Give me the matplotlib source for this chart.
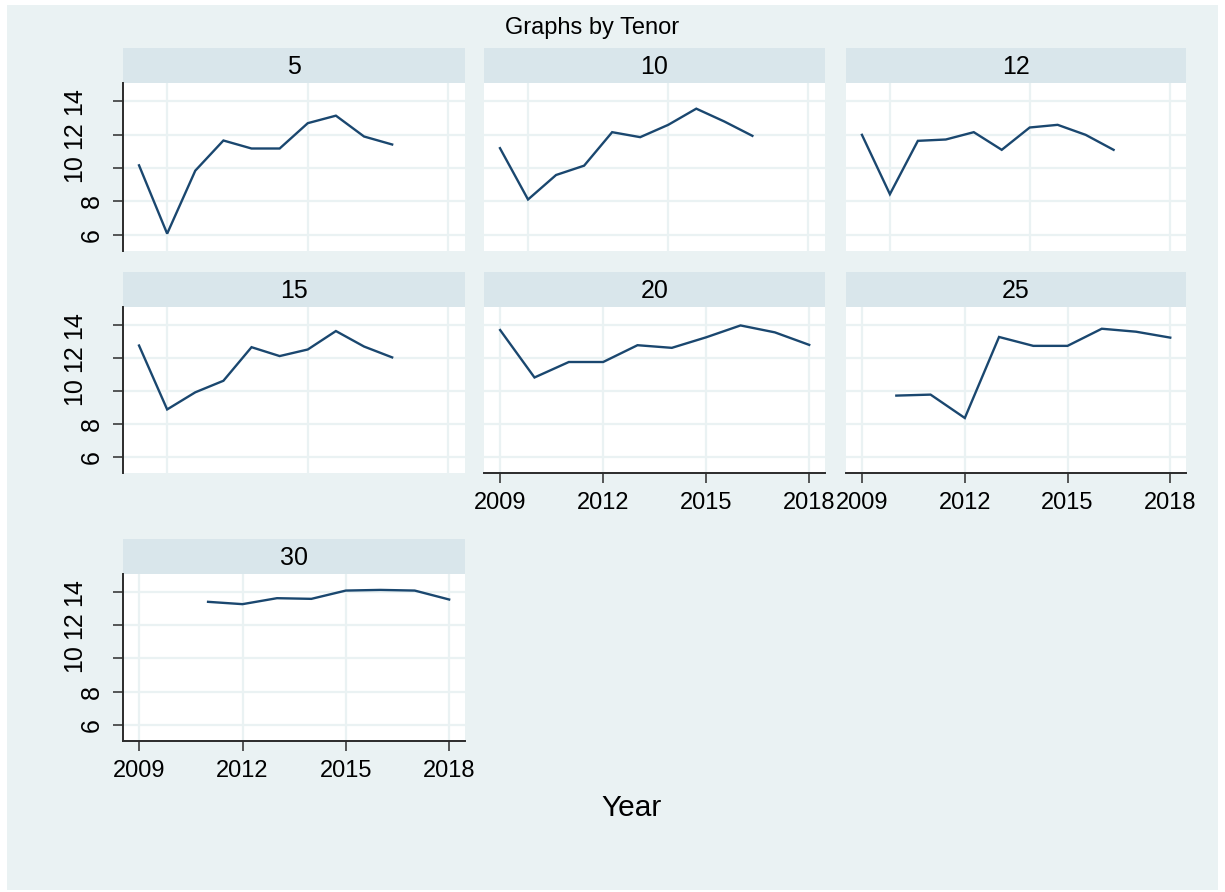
import matplotlib
matplotlib.use("Agg")
import matplotlib.pyplot as plt
from matplotlib.patches import Rectangle

plt.rcParams["font.family"] = ["Liberation Sans", "DejaVu Sans"]

# Yield by tenor and year
tenors = ["5", "10", "12", "15", "20", "25", "30"]
years_5 = [2009, 2010, 2011, 2012, 2013, 2014, 2015, 2016, 2017, 2018]
yield_5 = [10.16, 6.06, 9.84, 11.65, 11.17, 11.17, 12.69, 13.14, 11.89, 11.41]
years_10 = [2009, 2010, 2011, 2012, 2013, 2014, 2015, 2016, 2017, 2018]
yield_10 = [11.19, 8.11, 9.58, 10.14, 12.15, 11.85, 12.59, 13.56, 12.79, 11.93]
years_12 = [2009, 2010, 2011, 2012, 2013, 2014, 2015, 2016, 2017, 2018]
yield_12 = [11.99, 8.43, 11.63, 11.71, 12.15, 11.09, 12.43, 12.59, 11.99, 11.09]
years_15 = [2009, 2010, 2011, 2012, 2013, 2014, 2015, 2016, 2017, 2018]
yield_15 = [12.76, 8.88, 9.92, 10.62, 12.66, 12.12, 12.52, 13.64, 12.70, 12.04]
years_20 = [2009, 2010, 2011, 2012, 2013, 2014, 2015, 2016, 2017, 2018]
yield_20 = [13.70, 10.82, 11.76, 11.76, 12.78, 12.62, 13.26, 13.98, 13.56, 12.80]
years_25 = [2010, 2011, 2012, 2013, 2014, 2015, 2016, 2017, 2018]
yield_25 = [9.72, 9.78, 8.36, 13.28, 12.74, 12.74, 13.78, 13.60, 13.24]
years_30 = [2011, 2012, 2013, 2014, 2015, 2016, 2017, 2018]
yield_30 = [13.42, 13.28, 13.64, 13.60, 14.10, 14.14, 14.10, 13.56]

y_ticks = [6, 8, 10, 12, 14]
x_ticks_labeled = [2009, 2012, 2015, 2018]
x_ticks_upper = [2010, 2015, 2020]

series = {
    "5": (years_5, yield_5),
    "10": (years_10, yield_10),
    "12": (years_12, yield_12),
    "15": (years_15, yield_15),
    "20": (years_20, yield_20),
    "25": (years_25, yield_25),
    "30": (years_30, yield_30),
}

W, H = 1225, 892
BG = "#eaf2f3"
STRIP = "#d9e6eb"
GRID = "#eaf2f3"
LINE = "#1a476f"
AXC = "#2b2b2b"

fig = plt.figure(figsize=(W / 100, H / 100), dpi=100, facecolor="white")
fig.patches.append(Rectangle((7 / W, 1 - 890 / H), (1218 - 7) / W, (890 - 5) / H,
                             transform=fig.transFigure, facecolor=BG,
                             edgecolor="none", zorder=-10))

cols = [(123, 465), (484, 825), (846, 1186)]
rows = [(83, 251), (307, 473), (574, 741)]
strip_h = 35

layout = {
    "5": (0, 0), "10": (0, 1), "12": (0, 2),
    "15": (1, 0), "20": (1, 1), "25": (1, 2),
    "30": (2, 0),
}
bottom_axis = {"20", "25", "30"}
left_axis = {"5", "15", "30"}


def px_axes(x0, x1, y0, y1):
    return fig.add_axes([x0 / W, 1 - y1 / H, (x1 - x0) / W, (y1 - y0) / H])


for t in tenors:
    r, c = layout[t]
    x0, x1 = cols[c]
    y0, y1 = rows[r]

    # strip header
    sax = px_axes(x0, x1, y0 - strip_h, y0)
    sax.set_facecolor(STRIP)
    for s in sax.spines.values():
        s.set_visible(False)
    sax.set_xticks([])
    sax.set_yticks([])
    sax.text(0.5, 0.45, t, ha="center", va="center", fontsize=18,
             transform=sax.transAxes)

    ax = px_axes(x0, x1, y0, y1)
    ax.set_facecolor("white")
    xs, ys = series[t]
    ax.plot(xs, ys, color=LINE, lw=1.7, zorder=3, solid_joinstyle="miter")
    ax.set_ylim(5.02, 15.1)
    ax.set_yticks(y_ticks)
    if t in bottom_axis:
        ax.set_xlim(2008.53, 2018.46)
        ax.set_xticks(x_ticks_labeled)
        ax.tick_params(axis="x", length=7.5, width=1.1, color=AXC,
                       labelsize=17, pad=6)
    else:
        ax.set_xlim(2008.43, 2020.59)
        ax.set_xticks(x_ticks_upper)
        ax.tick_params(axis="x", length=0, labelbottom=False)

    if t in left_axis:
        ax.tick_params(axis="y", length=7.5, width=1.1, color=AXC,
                       labelsize=18)
        for lab in ax.get_yticklabels():
            lab.set_rotation(90)
            lab.set_va("center")
        for tick, v in zip(ax.yaxis.get_major_ticks(), y_ticks):
            tick.set_pad(6.5 if v < 10 else 19)
    else:
        ax.tick_params(axis="y", length=0, labelleft=False)

    ax.grid(True, color=GRID, lw=1.6, zorder=0)
    ax.set_axisbelow(True)
    for name, s in ax.spines.items():
        s.set_color(AXC)
        s.set_linewidth(1.4)
        if name in ("top", "right"):
            s.set_visible(False)
    ax.spines["left"].set_visible(t in left_axis)
    ax.spines["bottom"].set_visible(t in bottom_axis)

fig.text(592 / W, 1 - 28 / H, "Graphs by Tenor", ha="center", va="center",
         fontsize=17)
fig.text(632 / W, 1 - 808 / H, "Year", ha="center", va="center", fontsize=21.5)

fig.savefig("out.png", dpi=100, facecolor="white")
